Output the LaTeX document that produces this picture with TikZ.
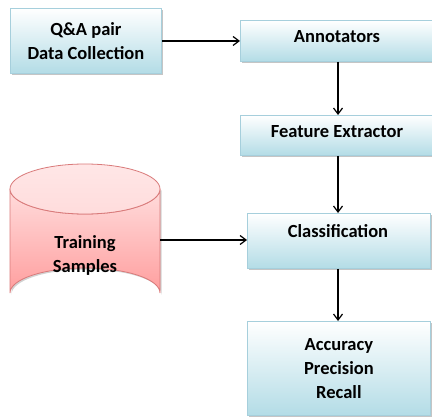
\documentclass[tikz,border=0pt]{standalone}
\usepackage{fontspec}
\setmainfont{Carlito}
\usetikzlibrary{arrows.meta,shadows}
\definecolor{boxtop}{HTML}{FFFFFF}
\definecolor{boxbot}{HTML}{B3DCE6}
\definecolor{boxline}{HTML}{A6CFDC}
\definecolor{pinktop}{HTML}{FFDCDC}
\definecolor{pinkbot}{HTML}{FF9E9E}
\definecolor{pinkline}{HTML}{D97A7A}
\tikzset{
  stepbox/.style={draw=boxline, line width=0.8pt, top color=boxtop, bottom color=boxbot,
    drop shadow={shadow xshift=1.5pt, shadow yshift=-1.5pt, fill=black!45, opacity=0.5},
    font=\fontsize{18.5}{24}\selectfont\bfseries, align=center, inner sep=0pt, anchor=north west},
  conn/.style={-{Straight Barb[length=6pt,width=9pt]}, line width=1.2pt, black},
  lbl/.style={font=\fontsize{18.5}{24}\selectfont\bfseries, align=center, inner sep=0pt}
}
\begin{document}
\begin{tikzpicture}[x=1pt,y=-1pt]
\useasboundingbox (0,0) rectangle (432,420);
% boxes
\node[stepbox, minimum width=151, minimum height=65] (qa) at (10,8) {Q\&A pair\\Data Collection};
\node[stepbox, minimum width=194, minimum height=41] (ann) at (240,20) {};
\node[lbl] at (337,37) {Annotators};
\node[stepbox, minimum width=194, minimum height=40] (fe) at (240,115) {};
\node[lbl] at (337,132) {Feature Extractor};
\node[stepbox, minimum width=183, minimum height=55] (cls) at (247,213) {};
\node[lbl] at (338,231) {Classification};
\node[stepbox, minimum width=183, minimum height=94] (acc) at (247,321) {Accuracy\\Precision\\Recall};
% cylinder
\fill[black!35, opacity=0.5] (11.5,190.5) -- (11.5,294.5) arc[start angle=180, end angle=360, x radius=75, y radius=25] -- (161.5,190.5) -- cycle;
\shade[top color=pinktop, bottom color=pinkbot, draw=pinkline, line width=0.8pt]
  (10,189) -- (10,293) arc[start angle=180, end angle=360, x radius=75, y radius=25]
  -- (160,189) arc[start angle=0, end angle=180, x radius=75, y radius=25] -- cycle;
\shade[top color=pinktop!70!white, bottom color=pinktop, draw=pinkline, line width=0.8pt]
  (85,189) ellipse[x radius=75, y radius=25];
\node[lbl, minimum width=150] (ts) at (85,255) {Training\\Samples};
\coordinate (tsr) at (160,240);
% connectors
\draw[conn] (qa.east |- 0,41) -- (ann.west |- 0,41);
\draw[conn] (ann.south -| 338,0) -- (fe.north -| 338,0);
\draw[conn] (fe.south -| 338,0) -- (cls.north -| 338,0);
\draw[conn] (tsr) -- (cls.west |- tsr);
\draw[conn] (cls.south -| 338,0) -- (acc.north -| 338,0);
\end{tikzpicture}
\end{document}
